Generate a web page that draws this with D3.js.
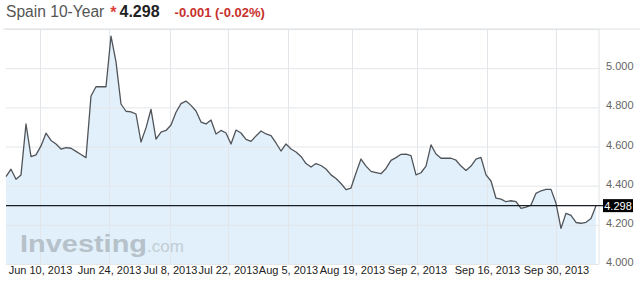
<!DOCTYPE html>
<html><head><meta charset="utf-8">
<script src="https://cdn.jsdelivr.net/npm/d3@7/dist/d3.min.js"></script>
<style>
html,body{margin:0;padding:0;background:#fff;}
svg{display:block;font-family:"Liberation Sans",Arial,sans-serif;}
</style></head>
<body>
<svg id="chart" width="640" height="285"></svg>
<script>
// ---- data ----
const titleText = "Spain 10-Year";
const lastValue = 4.298;
const changeText = "-0.001 (-0.02%)";
const yields = [
 4.446,4.484,4.433,4.455,4.715,4.548,4.557,4.603,4.668,4.631,
 4.613,4.587,4.594,4.591,4.575,4.559,4.543,4.858,4.905,4.905,
 4.905,5.164,5.032,4.817,4.780,4.777,4.766,4.623,4.695,4.790,
 4.638,4.674,4.682,4.710,4.775,4.819,4.832,4.810,4.781,4.725,
 4.715,4.735,4.664,4.682,4.669,4.613,4.684,4.669,4.636,4.626,
 4.654,4.679,4.664,4.656,4.618,4.577,4.613,4.587,4.572,4.549,
 4.513,4.495,4.513,4.503,4.485,4.455,4.437,4.411,4.380,4.388,
 4.465,4.536,4.500,4.473,4.467,4.461,4.488,4.529,4.543,4.560,
 4.561,4.553,4.455,4.466,4.500,4.608,4.562,4.540,4.540,4.540,
 4.530,4.500,4.478,4.500,4.536,4.544,4.455,4.424,4.336,4.331,
 4.318,4.323,4.318,4.284,4.290,4.301,4.361,4.374,4.381,4.381,
 4.310,4.182,4.259,4.248,4.212,4.208,4.213,4.232,4.298
];
const gridIdx = [6.8, 20.6, 32.8, 44.4, 56.4, 69.2, 82.2, 96.2, 110];
const dateLabels = ["Jun 10, 2013","Jun 24, 2013","Jul 8, 2013","Jul 22, 2013","Aug 5, 2013","Aug 19, 2013","Sep 2, 2013","Sep 16, 2013","Sep 30, 2013"];
const yTicks = [4.0, 4.2, 4.4, 4.6, 4.8, 5.0];

// ---- layout ----
const svg = d3.select("#chart");
const L = 6, R = 599, T = 29, B = 264, dataRight = 596;
const x = d3.scaleLinear().domain([0, yields.length - 1]).range([L, dataRight]);
const y = d3.scaleLinear().domain([4.0, 5.2]).range([B, T]);

// area fill
svg.append("path").datum(yields)
  .attr("fill", "#e1f0fb")
  .attr("d", d3.area().x((d,i)=>x(i)).y0(B).y1(d=>y(d)));

// vertical gridlines
svg.append("g").attr("transform", `translate(0,${T})`)
  .call(d3.axisBottom(x).tickValues(gridIdx).tickSize(B - T).tickFormat(""))
  .call(g => { g.select(".domain").remove(); g.selectAll("line").attr("stroke", "#e2e6ea"); });

// horizontal gridlines
svg.append("g").attr("transform", `translate(${L},0)`)
  .call(d3.axisRight(y).tickValues(yTicks.concat([5.2])).tickSize(R - L).tickFormat(""))
  .call(g => { g.select(".domain").remove(); g.selectAll("line").attr("stroke", "#e4e6e8"); });

// borders
svg.append("line").attr("x1", R).attr("x2", R).attr("y1", T).attr("y2", B)
  .attr("stroke", "#e0e2e4");
svg.append("line").attr("x1", 3).attr("x2", 640).attr("y1", T).attr("y2", T)
  .attr("stroke", "#dcdfe2");

// watermark
const wm = svg.append("text").attr("x", 20).attr("y", 252);
wm.append("tspan").text("Investing").attr("font-size", 24).attr("font-weight", "bold")
  .attr("fill", "#b6c1c9").attr("textLength", 127).attr("lengthAdjust", "spacingAndGlyphs");
wm.append("tspan").text(".com").attr("font-size", 17).attr("fill", "#c3cdd4");

// line
svg.append("path").datum(yields)
  .attr("fill", "none").attr("stroke", "#505459").attr("stroke-width", 1.3)
  .attr("stroke-linejoin", "round")
  .attr("d", d3.line().x((d,i)=>x(i)).y(d=>y(d)));

// last value line
svg.append("line").attr("x1", L).attr("x2", 603).attr("y1", y(lastValue)).attr("y2", y(lastValue))
  .attr("stroke", "#1a1f26").attr("stroke-width", 1.4);

// y labels
svg.append("g").attr("transform", `translate(603,-2)`)
  .call(d3.axisRight(y).tickValues(yTicks).tickSize(0).tickPadding(3).tickFormat(d3.format(".3f")))
  .call(g => { g.select(".domain").remove();
    g.selectAll("text").attr("fill", "#666").attr("font-size", 11).attr("font-family", "Liberation Sans, Arial, sans-serif"); });

// last value box
svg.append("rect").attr("x", 603).attr("y", y(lastValue) - 6.5).attr("width", 30).attr("height", 13).attr("fill", "#000");
svg.append("text").attr("x", 618).attr("y", y(lastValue)).attr("dy", "0.36em")
  .attr("text-anchor", "middle").attr("fill", "#fff").attr("font-size", 11).text(d3.format(".3f")(lastValue));

// x labels
svg.append("g").attr("transform", `translate(0,266)`)
  .call(d3.axisBottom(x).tickValues(gridIdx).tickSize(0).tickPadding(0).tickFormat((d,i)=>dateLabels[i]))
  .call(g => { g.select(".domain").remove();
    g.selectAll("text").attr("fill", "#222").attr("font-size", 11).attr("font-family", "Liberation Sans, Arial, sans-serif"); });

// title
const t = svg.append("text").attr("x", 6).attr("y", 17);
t.append("tspan").text(titleText).attr("font-size", 15.6).attr("fill", "#555");
t.append("tspan").text("*").attr("dx", 6).attr("dy", 1).attr("font-size", 16).attr("font-weight", "bold").attr("fill", "#e0403a");
t.append("tspan").text(d3.format(".3f")(lastValue)).attr("dx", 3).attr("dy", -1).attr("font-size", 16).attr("font-weight", "bold").attr("fill", "#222");
t.append("tspan").text(changeText).attr("dx", 15).attr("font-size", 13).attr("font-weight", "bold").attr("fill", "#c8302c");
</script>
</body></html>
